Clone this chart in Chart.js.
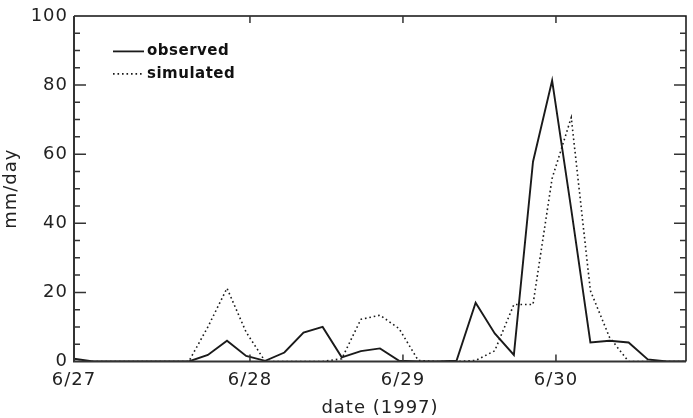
<!DOCTYPE html>
<html>
<head>
<meta charset="utf-8">
<script src="https://cdn.jsdelivr.net/npm/chart.js@4.4.1/dist/chart.umd.min.js"></script>
<style>
  html, body { margin: 0; padding: 0; background: #fff; }
  #wrap { width: 693px; height: 418px; }
</style>
</head>
<body>
<div id="wrap"><canvas id="rain" width="693" height="418"></canvas></div>
<script>
// hours since 6/27 00:00, one value every 3 hours
const hours = [-3.6, -0.6, 2.4, 5.4, 8.4, 11.4, 14.4, 17.4, 20.4, 23.4, 26.4,
               29.4, 32.4, 35.4, 38.4, 41.4, 44.4, 47.4, 50.4, 53.4, 56.4, 59.4,
               62.4, 65.4, 68.4, 71.4, 74.4, 77.4, 80.4, 83.4, 86.4, 89.4, 92.4];

// precipitation (mm/day)
const observed = [0.8, 0, 0, 0, 0, 0, 0, 1.9, 6.0, 1.6, 0.2,
                  2.6, 8.4, 10.0, 1.2, 3.0, 3.8, 0.2, 0, 0, 0.2, 17.0,
                  8.1, 1.9, 57.8, 81.3, 44, 5.5, 6.0, 5.5, 0.6, 0, 0];
const simulated = [0, 0, 0, 0, 0, 0, 0, 10, 21.2, 8.5, 0,
                   0, 0, 0, 0.8, 12.2, 13.4, 9.5, 0.3, 0, 0, 0.3,
                   3.1, 16.5, 16.5, 53, 70.6, 20.5, 7, 0, 0, 0, 0];

// x axis labels
const dayTicks = [-3.6, 24, 48, 72];
const dayLabels = ['6/27', '6/28', '6/29', '6/30'];

const toPoints = vals => hours.map((h, i) => ({ x: h, y: vals[i] }));

const dotted = [1.6, 2.9];

// texte un peu espace, comme la police du graphique d'origine
const spacing = {
    id: 'spacing',
    beforeDraw(chart) {
        chart.ctx.letterSpacing = '1px';
    }
};

// cadre + graduations tournees vers l'interieur
const frameTicks = {
    id: 'frameTicks',
    afterDraw(chart) {
        const { ctx, chartArea: a, scales: { x, y } } = chart;
        ctx.save();
        ctx.lineCap = 'butt';

        ctx.strokeStyle = '#111';
        ctx.lineWidth = 1.5;
        ctx.beginPath();
        ctx.moveTo(a.left, a.top);
        ctx.lineTo(a.right, a.top);
        ctx.lineTo(a.right, a.bottom);
        ctx.stroke();

        ctx.strokeStyle = '#333';
        ctx.lineWidth = 2;
        ctx.beginPath();
        ctx.moveTo(a.left, a.top);
        ctx.lineTo(a.left, a.bottom);
        ctx.lineTo(a.right, a.bottom);
        ctx.stroke();

        ctx.lineWidth = 1.5;
        for (let v = 5; v < 100; v += 5) {
            const py = y.getPixelForValue(v);
            const len = v % 20 === 0 ? 12 : 6;
            ctx.beginPath();
            ctx.moveTo(a.left, py);
            ctx.lineTo(a.left + len, py);
            ctx.moveTo(a.right, py);
            ctx.lineTo(a.right - len, py);
            ctx.stroke();
        }
        dayTicks.slice(1).forEach(d => {
            const px = x.getPixelForValue(d);
            ctx.beginPath();
            ctx.moveTo(px, a.bottom);
            ctx.lineTo(px, a.bottom - 7);
            ctx.moveTo(px, a.top);
            ctx.lineTo(px, a.top + 7);
            ctx.stroke();
        });
        ctx.restore();
    }
};

// legende dans le coin haut gauche
const insideLegend = {
    id: 'insideLegend',
    afterDraw(chart) {
        const { ctx, chartArea: a } = chart;
        const x0 = a.left + 39, x1 = a.left + 70;
        const rows = [
            { text: 'observed', y: a.top + 35.5, dash: [], width: 1.8 },
            { text: 'simulated', y: a.top + 58, dash: dotted, width: 1.6 }
        ];
        ctx.save();
        ctx.letterSpacing = '0.5px';
        ctx.font = 'bold 15px "DejaVu Sans"';
        ctx.textBaseline = 'middle';
        ctx.fillStyle = '#111';
        rows.forEach(r => {
            ctx.strokeStyle = '#1a1a1a';
            ctx.lineWidth = r.width;
            ctx.setLineDash(r.dash);
            ctx.beginPath();
            ctx.moveTo(x0, r.y);
            ctx.lineTo(x1, r.y);
            ctx.stroke();
            ctx.fillText(r.text, x1 + 3, r.y);
        });
        ctx.restore();
    }
};

const fontMain = { family: '"DejaVu Sans"', size: 18, lineHeight: 1.1 };

new Chart(document.getElementById('rain'), {
    type: 'line',
    data: {
        datasets: [{
            label: 'observed',
            data: toPoints(observed),
            borderColor: '#1a1a1a',
            borderWidth: 1.9,
            pointRadius: 0,
            tension: 0
        }, {
            label: 'simulated',
            data: toPoints(simulated),
            borderColor: '#1a1a1a',
            borderWidth: 1.6,
            borderDash: dotted,
            pointRadius: 0,
            tension: 0
        }]
    },
    options: {
        responsive: false,
        animation: false,
        devicePixelRatio: 1,
        layout: { padding: { top: 13, right: 7, left: 0, bottom: 0 } },
        plugins: {
            legend: { display: false },
            tooltip: { enabled: false }
        },
        scales: {
            x: {
                type: 'linear',
                min: -3.6,
                max: 92.4,
                afterFit: s => { s.height = 56.5; },
                afterBuildTicks: s => { s.ticks = dayTicks.map(v => ({ value: v })); },
                grid: { display: false, drawTicks: false },
                border: { display: false },
                ticks: {
                    autoSkip: false,
                    maxRotation: 0,
                    padding: 9,
                    color: '#222',
                    font: fontMain,
                    callback: v => dayLabels[dayTicks.indexOf(v)]
                },
                title: {
                    display: true,
                    text: 'date (1997)',
                    color: '#222',
                    font: fontMain,
                    padding: { top: 0, bottom: 0 }
                }
            },
            y: {
                min: 0,
                max: 100,
                afterFit: s => { s.width = 74; },
                grid: { display: false, drawTicks: false },
                border: { display: false },
                ticks: {
                    stepSize: 20,
                    padding: 6,
                    color: '#222',
                    font: fontMain
                },
                title: {
                    display: true,
                    text: 'mm/day',
                    color: '#222',
                    font: fontMain,
                    padding: { top: 1, bottom: 0 }
                }
            }
        }
    },
    plugins: [spacing, frameTicks, insideLegend]
});
</script>
</body>
</html>
